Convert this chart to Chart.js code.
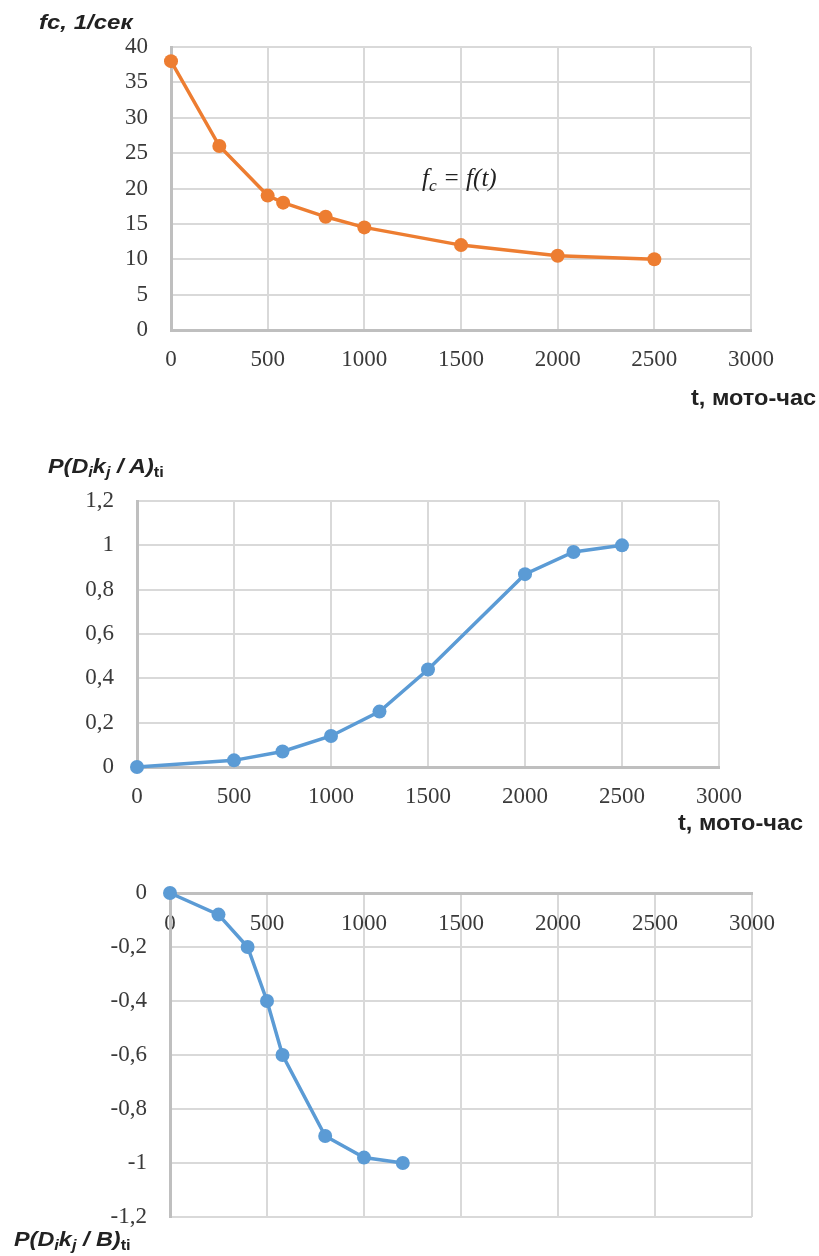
<!DOCTYPE html>
<html><head><meta charset="utf-8">
<script src="https://cdn.jsdelivr.net/npm/chart.js@4/dist/chart.umd.min.js"></script>
<style>
html,body{margin:0;padding:0;background:#fff;}
#wrap{position:relative;width:819px;height:1256px;overflow:hidden;background:#fff;}
canvas{position:absolute;left:0;}
.t{position:absolute;white-space:nowrap;color:#222;font-family:'Liberation Sans',Arial,sans-serif;font-weight:bold;line-height:1;transform-origin:0 0;}
.t sub{font-size:70%;vertical-align:-0.25em;line-height:0;}
.an{position:absolute;white-space:nowrap;color:#222;font-family:'Liberation Serif','Times New Roman',serif;font-style:italic;font-size:25px;line-height:1;}
.an sub{font-size:70%;vertical-align:-0.3em;line-height:0;}
</style></head><body>
<div id="wrap">
<canvas id="c1" width="819" height="420" style="top:0px;width:819px;height:420px"></canvas>
<canvas id="c2" width="819" height="420" style="top:430px;width:819px;height:420px"></canvas>
<canvas id="c3" width="819" height="406" style="top:850px;width:819px;height:406px"></canvas>
<div class="t" style="left:39px;top:12px;font-style:italic;font-size:20px;transform:scaleX(1.2)">fc, 1/сек</div>
<div class="an" style="left:422px;top:165px">f<sub>c</sub> = f(t)</div>
<div class="t" style="left:691px;top:387px;font-size:22px;transform:scaleX(1.07)">t, мото-час</div>
<div class="t" style="left:48px;top:456px;font-size:20px;transform:scaleX(1.17)"><i>P(D<sub>i</sub>k<sub>j</sub> / A)</i><sub>ti</sub></div>
<div class="t" style="left:678px;top:812px;font-size:22px;transform:scaleX(1.07)">t, мото-час</div>
<div class="t" style="left:14px;top:1229px;font-size:20px;transform:scaleX(1.17)"><i>P(D<sub>i</sub>k<sub>j</sub> / B)</i><sub>ti</sub></div>
</div>
<script>
// ---- data ----
const fcTime   = [0, 250, 500, 580, 800, 1000, 1500, 2000, 2500];
const fcValues = [38, 26, 19, 18, 16, 14.5, 12, 10.5, 10];

const pATime   = [0, 500, 750, 1000, 1250, 1500, 2000, 2250, 2500];
const pAValues = [0, 0.03, 0.07, 0.14, 0.25, 0.44, 0.87, 0.97, 1.0];

const pBTime   = [0, 250, 400, 500, 580, 800, 1000, 1200];
const pBValues = [0, -0.08, -0.2, -0.4, -0.6, -0.9, -0.98, -1.0];

const xTicks   = [0, 500, 1000, 1500, 2000, 2500, 3000];
const fcTicks  = [0, 5, 10, 15, 20, 25, 30, 35, 40];
const pATicks  = [0, 0.2, 0.4, 0.6, 0.8, 1.0, 1.2];
const pBTicks  = [-1.2, -1.0, -0.8, -0.6, -0.4, -0.2, 0];

// ---- styles ----
const ORANGE = '#ED7D31', BLUE = '#5B9BD5';
const GRID = '#d9d9d9', AXIS = '#bfbfbf', TXT = '#3a3a3a';
const tickFont = {family: "'Liberation Serif','Times New Roman',serif", size: 23};

function fmt(v){ return String(Math.round(v*10)/10).replace('.', ','); }
function setTicks(arr){ return function(scale){ scale.ticks = arr.map(v => ({value: v})); }; }
function pts(xs, ys){ return xs.map((x, i) => ({x: x, y: ys[i]})); }

function make(id, xs, ys, color, yTicks, geom){
  const ctx = document.getElementById(id);
  const xTop = !!geom.xTop;
  return new Chart(ctx, {
    type: 'line',
    data: { datasets: [{
      data: pts(xs, ys),
      borderColor: color, backgroundColor: color,
      borderWidth: 3.5, pointRadius: 7, pointHoverRadius: 7,
      pointBorderWidth: 0, tension: 0, clip: false
    }]},
    options: {
      responsive: false, animation: false, devicePixelRatio: 1,
      plugins: { legend: {display: false}, tooltip: {enabled: false} },
      layout: { padding: geom.padding },
      scales: {
        x: {
          type: 'linear', position: xTop ? 'top' : 'bottom',
          min: 0, max: 3000,
          afterBuildTicks: setTicks(xTicks),
          afterFit: s => { s.height = geom.xh; },
          grid: { color: GRID, lineWidth: 2, drawTicks: false },
          border: { color: AXIS, width: 3 },
          ticks: { font: tickFont, color: TXT, padding: geom.xpad, mirror: xTop, maxRotation: 0, autoSkip: false,
                   callback: v => fmt(v) }
        },
        y: {
          type: 'linear', min: yTicks[0], max: yTicks[yTicks.length-1],
          afterBuildTicks: setTicks(yTicks),
          afterFit: s => { s.width = geom.yw; },
          grid: { color: GRID, lineWidth: 2, drawTicks: false },
          border: { color: AXIS, width: 3 },
          ticks: { font: tickFont, color: TXT, padding: 23, autoSkip: false, callback: v => fmt(v) }
        }
      }
    }
  });
}

// chart 1: area left 171, right 751, top 47, bottom 330
make('c1', fcTime, fcValues, ORANGE, fcTicks,
  { padding: {left: 0, right: 68, top: 47, bottom: 0}, yw: 171, xh: 90, xpad: 16 });
// chart 2: area left 137, right 719, top 501-430=71, bottom 767-430=337
make('c2', pATime, pAValues, BLUE, pATicks,
  { padding: {left: 0, right: 100, top: 71, bottom: 0}, yw: 137, xh: 83, xpad: 16 });
// chart 3: area left 170, right 752, top 893-850=43, bottom 1217-850=367
make('c3', pBTime, pBValues, BLUE, pBTicks,
  { padding: {left: 0, right: 67, top: 43, bottom: 39}, yw: 170, xh: 0, xpad: 17, xTop: true });
</script>
</body></html>
